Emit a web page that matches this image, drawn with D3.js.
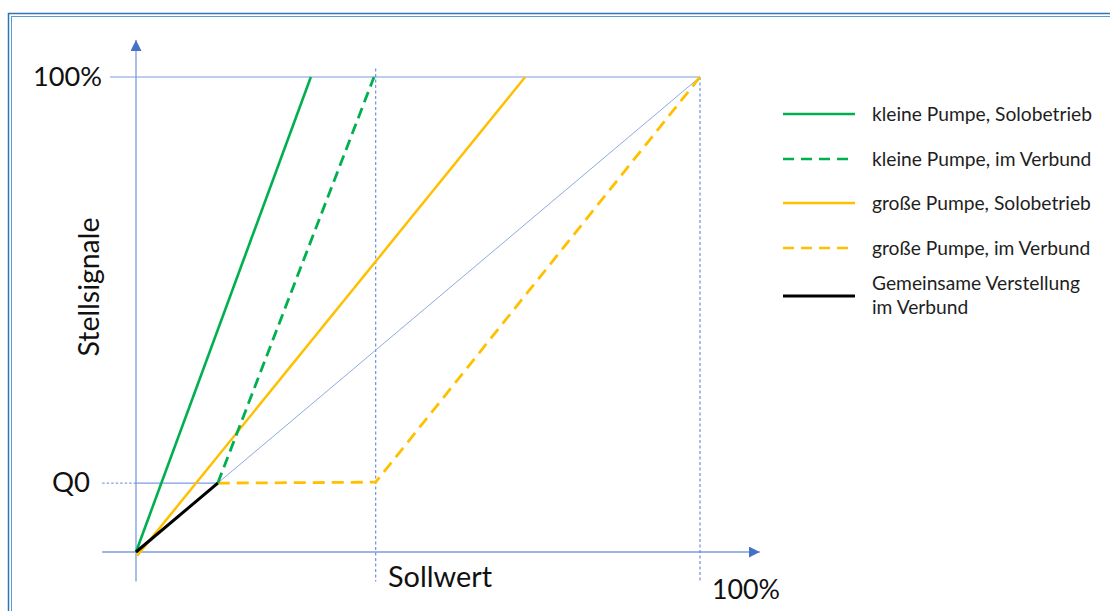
<!DOCTYPE html>
<html>
<head>
<meta charset="utf-8">
<script src="https://cdn.jsdelivr.net/npm/d3@7"></script>
<style>
  html, body { margin: 0; padding: 0; background: #ffffff; }
  svg { display: block; }
  text { font-family: Lato, "Open Sans", sans-serif; fill: #111111; }
</style>
</head>
<body>
<svg id="chart" width="1110" height="611"></svg>
<script>
// ---- data (fractions of 100%) ----
const Q0 = 0.145;
const xMid = 0.425;
const seriesNames = [
  "kleine Pumpe, Solobetrieb",
  "kleine Pumpe, im Verbund",
  "große Pumpe, Solobetrieb",
  "große Pumpe, im Verbund",
  "Gemeinsame Verstellung|im Verbund"
];
const greenSolid   = [[0, 0], [0.31, 1]];
const greenDashed  = [[0.145, 0.145], [0.422, 1]];
const orangeSolid  = [[0.002, -0.008], [0.69, 1]];
const orangeDashed = [[0.145, 0.145], [0.425, 0.147], [1, 1]];
const blackJoint   = [[0, 0], [0.145, 0.145]];
const diagonalRef  = [[0.145, 0.145], [1, 1]];
const yTickLabels = ["Q0", "100%"];
const xTickLabels = ["100%"];
const axisTitles = { x: "Sollwert", y: "Stellsignale" };

// ---- layout ----
const svg = d3.select("#chart");
const x = d3.scaleLinear().domain([0, 1]).range([136, 700]);
const y = d3.scaleLinear().domain([0, 1]).range([552, 77]);
const line = d3.line().x(d => x(d[0])).y(d => y(d[1]));

const blueAxis = "#7b9be0";
const blueThin = "#8eaadf";
const blueDark = "#4472c4";
const blueDot = "#5f88dc";
const green = "#00b050";
const orange = "#ffc000";

// frame (double border)
svg.append("rect").attr("x", 8.5).attr("y", 13.5).attr("width", 1200).attr("height", 700)
  .attr("fill", "none").attr("stroke", "#2e75b6").attr("stroke-width", 1.5);
svg.append("rect").attr("x", 11.5).attr("y", 16.5).attr("width", 1200).attr("height", 700)
  .attr("fill", "none").attr("stroke", "#5b9bd5").attr("stroke-width", 1);

const defs = svg.append("defs");
defs.append("marker").attr("id", "arrow").attr("viewBox", "0 0 10 10")
  .attr("refX", 10).attr("refY", 5).attr("markerWidth", 11).attr("markerHeight", 11)
  .attr("markerUnits", "userSpaceOnUse").attr("orient", "auto")
  .append("path").attr("d", "M0,0 L10,5 L0,10 Z").attr("fill", blueDark);

// axes with arrows
svg.append("line").attr("x1", x(-0.06)).attr("y1", y(0)).attr("x2", x(1.106)).attr("y2", y(0))
  .attr("stroke", blueAxis).attr("stroke-width", 1.3).attr("marker-end", "url(#arrow)");
svg.append("line").attr("x1", x(0)).attr("y1", y(-0.062)).attr("x2", x(0)).attr("y2", y(1.078))
  .attr("stroke", blueAxis).attr("stroke-width", 1.3).attr("marker-end", "url(#arrow)");

// 100% horizontal line
svg.append("line").attr("x1", x(-0.046)).attr("x2", x(1)).attr("y1", y(1)).attr("y2", y(1))
  .attr("stroke", blueAxis).attr("stroke-width", 1.1);
// Q0 line: dotted part left of axis, solid part to kink
svg.append("line").attr("x1", x(-0.06)).attr("x2", x(0)).attr("y1", y(Q0)).attr("y2", y(Q0))
  .attr("stroke", blueDot).attr("stroke-width", 1).attr("stroke-dasharray", "2.5,2");
svg.append("line").attr("x1", x(0)).attr("x2", x(Q0)).attr("y1", y(Q0)).attr("y2", y(Q0))
  .attr("stroke", blueAxis).attr("stroke-width", 1.2);
// vertical dotted guides
svg.append("line").attr("x1", x(xMid)).attr("x2", x(xMid)).attr("y1", y(1.018)).attr("y2", y(-0.062))
  .attr("stroke", blueDot).attr("stroke-width", 1.1).attr("stroke-dasharray", "3,2.5");
svg.append("line").attr("x1", x(1)).attr("x2", x(1)).attr("y1", y(1)).attr("y2", y(-0.062))
  .attr("stroke", blueDot).attr("stroke-width", 1.1).attr("stroke-dasharray", "3,2.5");

// thin diagonal reference
svg.append("path").attr("d", line(diagonalRef)).attr("fill", "none")
  .attr("stroke", blueThin).attr("stroke-width", 1);

// series
const series = [
  { d: orangeSolid,  c: orange, dash: null,   w: 2.5 },
  { d: orangeDashed, c: orange, dash: "12,7", w: 2.8 },
  { d: greenSolid,   c: green,  dash: null,   w: 2.6 },
  { d: greenDashed,  c: green,  dash: "11,6", w: 2.8 },
  { d: blackJoint,   c: "#000", dash: null,   w: 3 }
];
series.forEach(s => {
  svg.append("path").attr("d", line(s.d)).attr("fill", "none")
    .attr("stroke", s.c).attr("stroke-width", s.w)
    .attr("stroke-dasharray", s.dash);
});

// fit helper
function fit(t, target, base) {
  t.style("font-size", base + "px");
  const w = t.node().getComputedTextLength();
  t.style("font-size", (base * target / w).toFixed(2) + "px");
  return t;
}

// axis labels
fit(svg.append("text").attr("x", 102).attr("y", 86).attr("text-anchor", "end").text(yTickLabels[1]), 69, 28);
fit(svg.append("text").attr("x", 90).attr("y", 492).attr("text-anchor", "end").text(yTickLabels[0]), 38, 28);
fit(svg.append("text").attr("x", 712).attr("y", 599).text(xTickLabels[0]), 68, 28);
fit(svg.append("text").attr("x", 388).attr("y", 587).text(axisTitles.x), 104, 28);
fit(svg.append("text").attr("transform", "translate(99,287) rotate(-90)").attr("text-anchor", "middle")
  .text(axisTitles.y), 139, 28);

// legend
const legY = [114, 159, 203, 248, 296];
const legStyle = [
  { c: green, dash: null }, { c: green, dash: "11,7" },
  { c: orange, dash: null }, { c: orange, dash: "11,7" },
  { c: "#000", dash: null }
];
const probe = svg.append("text").attr("x", 0).attr("y", -100).text(seriesNames[0]).style("font-size", "20px");
const legSize = 20 * 220 / probe.node().getComputedTextLength();
probe.remove();
seriesNames.forEach((name, i) => {
  svg.append("line").attr("x1", 783).attr("x2", 855).attr("y1", legY[i]).attr("y2", legY[i])
    .attr("stroke", legStyle[i].c).attr("stroke-width", i === 4 ? 2.8 : 2.4)
    .attr("stroke-dasharray", legStyle[i].dash);
  const parts = name.split("|");
  const t = svg.append("text").attr("x", 872).style("font-size", legSize + "px").style("fill", "#1e1e1e");
  if (parts.length === 1) {
    t.attr("y", legY[i] + 7).text(parts[0]);
  } else {
    t.append("tspan").attr("x", 872).attr("y", 290).text(parts[0]);
    t.append("tspan").attr("x", 872).attr("y", 314).text(parts[1]);
  }
});
</script>
</body>
</html>
